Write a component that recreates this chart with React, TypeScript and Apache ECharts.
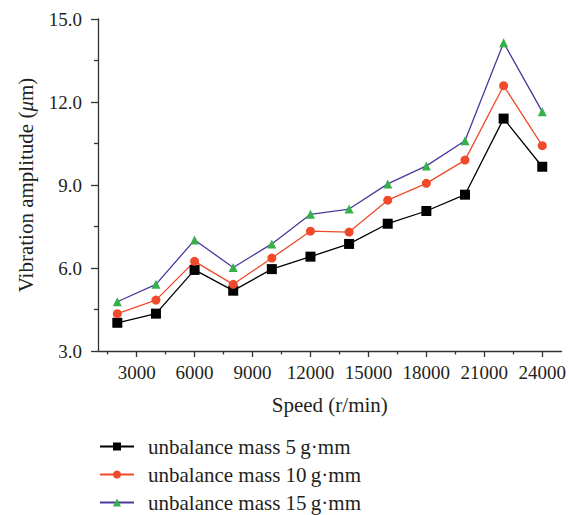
import React, { useEffect, useRef } from "react";
import * as echarts from "echarts";

const speeds = [2000, 4000, 6000, 8000, 10000, 12000, 14000, 16000, 18000, 20000, 22000, 24000];
const mass5 = [4.02, 4.35, 5.93, 5.18, 5.96, 6.41, 6.87, 7.6, 8.06, 8.65, 11.4, 9.66];
const mass10 = [4.35, 4.84, 6.24, 5.41, 6.36, 7.33, 7.3, 8.45, 9.06, 9.9, 12.59, 10.42];
const mass15 = [4.78, 5.41, 7.01, 6.02, 6.87, 7.94, 8.13, 9.04, 9.69, 10.6, 14.14, 11.65];
const xTicks = [3000, 6000, 9000, 12000, 15000, 18000, 21000, 24000];
const xMinorTicks = [1500, 4500, 7500, 10500, 13500, 16500, 19500, 22500];
const seriesNames = [
  "unbalance mass 5\u2009g\u00b7mm",
  "unbalance mass 10\u2009g\u00b7mm",
  "unbalance mass 15\u2009g\u00b7mm",
];

const FONT = "Liberation Serif";
const AXIS_COLOR = "#333";
const TEXT = "#231f20";
const FS = 19;
const FS_NAME = 21;

export default function App() {
  const ref = useRef<HTMLDivElement>(null);
  useEffect(() => {
    if (!ref.current) return;
    const chart = echarts.init(ref.current, undefined, { renderer: "svg" });
    const pair = (vals: number[]) => speeds.map((s, i) => [s, vals[i]]);
    chart.setOption({
      animation: false,
      textStyle: { fontFamily: FONT },
      grid: { left: 98, right: 6, top: 19, bottom: 164 },
      legend: {
        orient: "vertical",
        left: 99,
        top: 436,
        padding: 0,
        itemGap: 7,
        itemWidth: 34,
        itemHeight: 10,
        textStyle: { fontFamily: FONT, fontSize: FS_NAME, color: TEXT, padding: [0, 0, 0, 9] },
        data: seriesNames,
      },
      xAxis: [
        {
          type: "value",
          min: 1000,
          max: 25000,
          name: "Speed (r/min)",
          nameLocation: "middle",
          nameGap: 43,
          nameTextStyle: { fontFamily: FONT, fontSize: FS_NAME, color: TEXT },
          axisLine: { show: true, lineStyle: { color: AXIS_COLOR, width: 1.3 } },
          axisTick: { show: true, customValues: xTicks, length: 6, lineStyle: { color: AXIS_COLOR, width: 1.3 } },
          axisLabel: {
            customValues: xTicks,
            margin: 12,
            fontFamily: FONT,
            fontSize: FS,
            color: TEXT,
            formatter: (v: number) => String(v),
          },
          splitLine: { show: false },
        },
        {
          type: "value",
          min: 1000,
          max: 25000,
          position: "bottom",
          axisLine: { show: false },
          axisTick: { show: true, customValues: xMinorTicks, length: 3.5, lineStyle: { color: AXIS_COLOR, width: 1.3 } },
          axisLabel: { show: false },
          splitLine: { show: false },
        },
      ],
      yAxis: {
        type: "value",
        min: 3,
        max: 15,
        interval: 3,
        name: "Vibration amplitude ({i|μ}m)",
        nameLocation: "middle",
        nameGap: 62,
        nameTextStyle: {
          fontFamily: FONT,
          fontSize: FS_NAME,
          color: TEXT,
          rich: { i: { fontFamily: FONT, fontSize: FS_NAME, fontStyle: "italic", color: TEXT } },
        },
        axisLine: { show: true, lineStyle: { color: AXIS_COLOR, width: 1.3 } },
        axisTick: { show: true, length: 7, lineStyle: { color: AXIS_COLOR, width: 1.3 } },
        minorTick: { show: true, splitNumber: 2, length: 4, lineStyle: { color: AXIS_COLOR, width: 1.3 } },
        axisLabel: {
          margin: 16,
          fontFamily: FONT,
          fontSize: FS,
          color: TEXT,
          formatter: (v: number) => v.toFixed(1),
        },
        splitLine: { show: false },
      },
      series: [
        {
          name: seriesNames[0],
          type: "line",
          data: pair(mass5),
          symbol: "rect",
          symbolSize: 10,
          lineStyle: { color: "#000", width: 1.3 },
          itemStyle: { color: "#000" },
        },
        {
          name: seriesNames[1],
          type: "line",
          data: pair(mass10),
          symbol: "circle",
          symbolSize: 9,
          lineStyle: { color: "#f04a2a", width: 1.3 },
          itemStyle: { color: "#f04a2a" },
        },
        {
          name: seriesNames[2],
          type: "line",
          data: pair(mass15),
          symbol: "triangle",
          symbolSize: 9,
          lineStyle: { color: "#4a3a9c", width: 1.3 },
          itemStyle: { color: "#35b04a" },
        },
      ],
    });
    return () => chart.dispose();
  }, []);
  return <div ref={ref} style={{ width: 569, height: 515, position: "absolute", left: 0, top: 0 }} />;
}
